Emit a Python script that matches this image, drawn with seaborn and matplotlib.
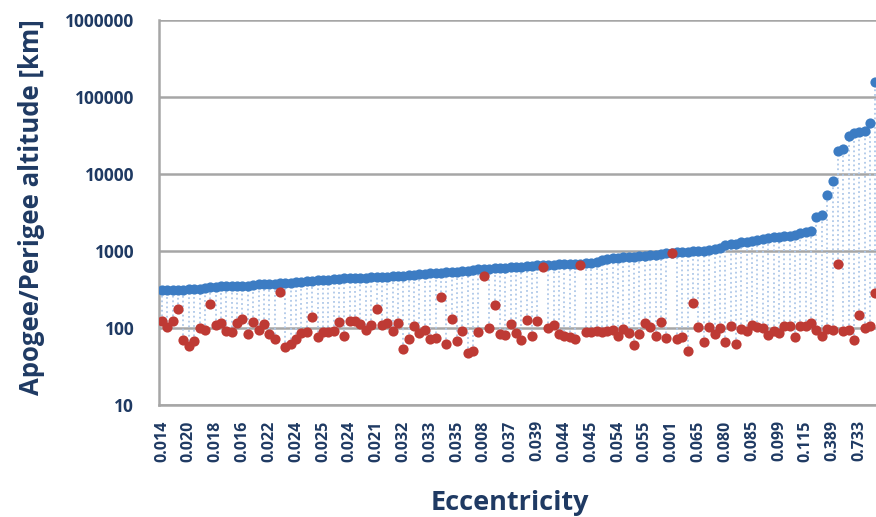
import numpy as np
import pandas as pd
import matplotlib
matplotlib.use("Agg")
import matplotlib.pyplot as plt
import seaborn as sns
from matplotlib.ticker import FixedLocator, NullFormatter

# ---- data ----
apogee_km = [
    310, 311, 312, 313, 315, 317, 319, 322, 330, 338,
    345, 347, 348, 349, 350, 351, 355, 362, 368, 371,
    373, 376, 380, 384, 387, 390, 396, 402, 408, 414,
    420, 425, 430, 435, 440, 443, 446, 449, 452, 455,
    457, 460, 465, 470, 475, 480, 487, 494, 500, 506,
    511, 516, 521, 526, 531, 535, 545, 556, 566, 577,
    588, 592, 597, 602, 606, 611, 619, 627, 635, 643,
    650, 655, 659, 664, 668, 673, 678, 683, 688, 693,
    698, 725, 760, 785, 800, 813, 824, 835, 846, 857,
    868, 884, 900, 916, 932, 948, 958, 968, 978, 989,
    999, 1010, 1030, 1060, 1090, 1200, 1215, 1220, 1290, 1320,
    1330, 1390, 1450, 1460, 1500, 1530, 1560, 1580, 1630, 1730,
    1780, 1820, 2800, 2900, 5350, 8100, 20000, 21000, 31000, 34000,
    35500, 36000, 46000, 155000,
]
perigee_km = [
    124, 104, 124, 175, 70, 58, 68, 99, 94, 205,
    109, 117, 91, 89, 117, 132, 83, 121, 94, 113,
    83, 71, 291, 56, 62, 73, 87, 89, 138, 77,
    89, 89, 92, 120, 79, 124, 122, 113, 94, 110,
    177, 108, 115, 92, 115, 54, 73, 106, 85, 94,
    71, 75, 250, 62, 131, 68, 91, 48, 51, 89,
    478, 100, 201, 84, 80, 113, 85, 70, 127, 79,
    123, 625, 100, 110, 84, 79, 76, 73, 658, 89,
    89, 92, 89, 92, 94, 79, 98, 87, 60, 83,
    115, 104, 79, 120, 75, 933, 73, 77, 50, 209,
    102, 66, 102, 84, 100, 66, 106, 62, 96, 91,
    108, 102, 99, 80, 92, 87, 106, 106, 76, 106,
    106, 115, 94, 79, 98, 94, 671, 92, 94, 70,
    149, 100, 106, 282,
]
ecc_tick_labels = ['0.014', '0.020', '0.018', '0.016', '0.022', '0.024', '0.025',
                   '0.024', '0.021', '0.032', '0.033', '0.035', '0.008', '0.037',
                   '0.039', '0.044', '0.045', '0.054', '0.055', '0.001', '0.065',
                   '0.080', '0.085', '0.099', '0.115', '0.389', '0.733']
label_step = 5
y_ticks = [10, 100, 1000, 10000, 100000, 1000000]

n = len(apogee_km)
df = pd.DataFrame({
    "idx": np.arange(n),
    "apogee": apogee_km,
    "perigee": perigee_km,
})

sns.set_style("white")
plt.rcParams['font.family'] = ['Open Sans', 'DejaVu Sans']

NAVY = '#1F3A63'
GRID = '#A6A6A6'
BLUE = '#3C7CC3'
RED = '#BE3A34'

fig = plt.figure(figsize=(8.76, 5.17), dpi=100)
ax = fig.add_axes([159.3 / 876, (517 - 405) / 517, (876 - 159.3) / 876, (405 - 20) / 517])

# dotted connectors (high-low lines)
ax.vlines(df["idx"], df["perigee"], df["apogee"], colors='#AFC8E8',
          linestyles=(0, (1.0, 1.6)), linewidth=1.3, zorder=1)

sns.scatterplot(data=df, x="idx", y="apogee", color=BLUE, s=54,
                edgecolor=BLUE, linewidth=0, ax=ax, zorder=3, clip_on=True)
sns.scatterplot(data=df, x="idx", y="perigee", color=RED, s=54,
                edgecolor=RED, linewidth=0, ax=ax, zorder=4, clip_on=True)

ax.set_yscale('log')
ax.set_ylim(10, 1000000)
ax.set_xlim(-0.5, 133.1)

ax.set_yticks(y_ticks)
ax.set_yticklabels([str(v) for v in y_ticks])
ax.yaxis.set_minor_locator(FixedLocator([]))
ax.yaxis.set_minor_formatter(NullFormatter())

ax.set_xticks(np.arange(0, n, label_step)[:len(ecc_tick_labels)])
ax.set_xticklabels(ecc_tick_labels, rotation=90)
ax.xaxis.set_minor_locator(FixedLocator(np.arange(-0.5, n, 0.5)))

ax.grid(axis='y', which='major', color=GRID, linewidth=1.8)
ax.grid(axis='x', visible=False)
ax.set_axisbelow(True)

for s in ['top', 'right']:
    ax.spines[s].set_visible(False)
for s in ['left', 'bottom']:
    ax.spines[s].set_color(GRID)
    ax.spines[s].set_linewidth(1.8)

ax.tick_params(axis='x', which='major', length=5, width=1.0, color=GRID,
               labelsize=11.5, labelcolor=NAVY, pad=6)
ax.tick_params(axis='x', which='minor', length=5, width=0.8, color=GRID)
ax.tick_params(axis='y', which='major', length=5, width=1.5, color=GRID,
               labelsize=12.5, labelcolor=NAVY, pad=13)
for lab in ax.get_xticklabels() + ax.get_yticklabels():
    lab.set_fontweight('bold')

ax.set_xlabel('Eccentricity', fontsize=19.5, fontweight='bold', color=NAVY)
ax.xaxis.set_label_coords(0.489, -0.2545)
ax.xaxis.label.set_va('center')
ax.set_ylabel('Apogee/Perigee altitude [km]', fontsize=18.5, fontweight='bold',
              color=NAVY)
ax.yaxis.set_label_coords(-0.178, 0.514)
ax.yaxis.label.set_va('center')

fig.savefig('out.png', dpi=100)
